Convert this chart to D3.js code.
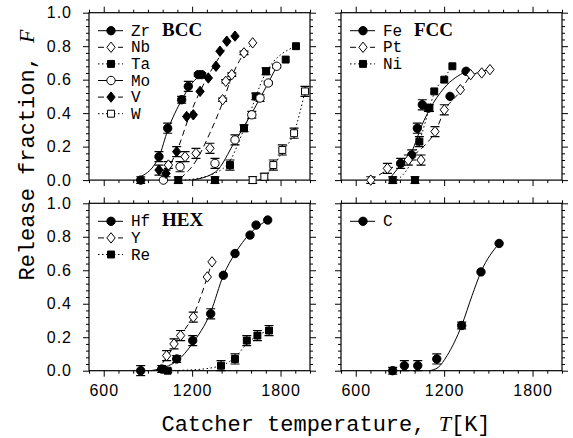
<!DOCTYPE html>
<html>
<head>
<meta charset="utf-8">
<script src="https://cdn.jsdelivr.net/npm/d3@7"></script>
<style>
  body { margin: 0; background: #fff; }
  svg { display: block; }
  .tick text { font-family: "Liberation Sans", Arial, sans-serif; font-size: 16px; fill: #000; letter-spacing: 1px; }
  .mono { font-family: "Liberation Mono", "DejaVu Sans Mono", monospace; fill: #000; }
</style>
</head>
<body>
<div id="chart"></div>
<script>
// ------------------
// DATA

// BCC panel
var zrT = [851, 975, 1034, 1129, 1174, 1242, 1265];
var zrF = [0, 0.14, 0.31, 0.48, 0.56, 0.63, 0.63];
var zrE = [0.02, 0.03, 0.03, 0.02, 0.03, 0.01, 0.01];
var zrFitT = [850, 975, 1035, 1130, 1200, 1265];
var zrFitF = [0.02, 0.14, 0.30, 0.48, 0.58, 0.63];

var nbT = [1039, 1152, 1226, 1321, 1407, 1428, 1469, 1552, 1611];
var nbF = [0.09, 0.14, 0.16, 0.19, 0.48, 0.59, 0.63, 0.76, 0.82];
var nbE = [0.02, 0.03, 0.03, 0.03, 0.01, 0.01, 0.01, 0.01, 0];
var nbFitT = [1120, 1230, 1320, 1410, 1470, 1611];
var nbFitF = [0.01, 0.12, 0.28, 0.47, 0.62, 0.82];

var taT = [1106, 1355, 1457, 1552, 1632, 1702, 1835, 1905];
var taF = [0, 0, 0.09, 0.31, 0.50, 0.65, 0.72, 0.80];
var taE = [0.02, 0.02, 0.03, 0.02, 0.02, 0.02, 0, 0];
var taFitT = [1150, 1350, 1460, 1550, 1700, 1905];
var taFitF = [0, 0.04, 0.12, 0.30, 0.64, 0.80];

var moT = [1005, 1118, 1355, 1491, 1605, 1661, 1717, 1774];
var moF = [0, 0.08, 0.10, 0.24, 0.39, 0.49, 0.58, 0.68];
var moE = [0, 0.03, 0.03, 0.03, 0.02, 0.02, 0.01, 0.01];
var moFitT = [1200, 1360, 1490, 1605, 1775];
var moFitF = [0, 0.05, 0.23, 0.40, 0.68];

var vT = [975, 1023, 1095, 1163, 1208, 1254, 1310, 1362, 1389, 1435, 1491];
var vF = [0.06, 0.04, 0.17, 0.38, 0.39, 0.53, 0.61, 0.68, 0.77, 0.83, 0.86];
var vE = [0.03, 0.02, 0.03, 0, 0, 0, 0, 0, 0, 0, 0];
var vFitT = [1020, 1095, 1180, 1254, 1360, 1490];
var vFitF = [0.05, 0.17, 0.38, 0.53, 0.70, 0.86];

var wT = [1611, 1690, 1751, 1812, 1892, 1966];
var wF = [0, 0.02, 0.09, 0.18, 0.28, 0.53];
var wE = [0.02, 0.02, 0.03, 0.03, 0.03, 0.03];
var wFitT = [1650, 1750, 1812, 1890, 1966];
var wFitF = [0, 0.08, 0.17, 0.28, 0.53];

// FCC panel
var feT = [905, 980, 1018, 1052, 1093, 1240, 1349];
var feF = [0.10, 0.15, 0.31, 0.45, 0.43, 0.50, 0.65];
var feE = [0.03, 0.03, 0.03, 0.03, 0.02, 0, 0];
var feFitT = [840, 905, 980, 1050, 1100, 1200, 1349];
var feFitF = [0.02, 0.09, 0.17, 0.33, 0.42, 0.55, 0.65];

var ptT = [702, 815, 957, 1043, 1138, 1201, 1310, 1380, 1455, 1511];
var ptF = [0, 0.07, 0.12, 0.12, 0.29, 0.42, 0.54, 0.63, 0.64, 0.66];
var ptE = [0.02, 0.03, 0.03, 0.03, 0.03, 0.03, 0, 0, 0, 0];
var ptFitT = [700, 815, 960, 1060, 1140, 1200, 1310, 1380, 1511];
var ptFitF = [0, 0.06, 0.13, 0.20, 0.29, 0.41, 0.53, 0.62, 0.66];

var niT = [851, 1002, 1032, 1100, 1133, 1201, 1256];
var niF = [0, 0, 0.23, 0.43, 0.53, 0.60, 0.68];
var niE = [0.02, 0.02, 0.03, 0.02, 0, 0, 0];
var niFitT = [880, 960, 1032, 1100, 1133, 1200, 1256];
var niFitF = [0, 0.08, 0.23, 0.43, 0.52, 0.61, 0.68];

// HEX panel
var hfT = [851, 994, 1095, 1204, 1326, 1412, 1491, 1593, 1634, 1713];
var hfF = [0, 0.01, 0.07, 0.18, 0.34, 0.57, 0.70, 0.81, 0.87, 0.90];
var hfE = [0.03, 0.02, 0.02, 0.03, 0.03, 0, 0, 0, 0, 0];
var hfFitT = [920, 1040, 1100, 1200, 1326, 1412, 1491, 1593, 1713];
var hfFitF = [0, 0.03, 0.06, 0.16, 0.35, 0.57, 0.70, 0.82, 0.90];

var yT = [1027, 1077, 1122, 1208, 1303, 1335];
var yF = [0.09, 0.16, 0.21, 0.32, 0.56, 0.65];
var yE = [0.03, 0.03, 0.03, 0.03, 0, 0];
var yFitT = [960, 1027, 1122, 1208, 1303, 1335];
var yFitF = [0, 0.08, 0.21, 0.33, 0.56, 0.65];

var reT = [1034, 1396, 1491, 1571, 1643, 1722];
var reF = [0, 0.03, 0.07, 0.18, 0.21, 0.24];
var reE = [0.01, 0.03, 0.03, 0.03, 0.03, 0.03];
var reFitT = [1000, 1200, 1396, 1491, 1571, 1643, 1722];
var reFitF = [0, 0.005, 0.03, 0.08, 0.16, 0.21, 0.24];

// C panel
var cT = [851, 930, 1021, 1150, 1319, 1450, 1573];
var cF = [0, 0.03, 0.03, 0.07, 0.27, 0.59, 0.76];
var cE = [0.02, 0.03, 0.03, 0.03, 0.02, 0, 0];
var cFitT = [1100, 1160, 1220, 1319, 1390, 1450, 1573];
var cFitF = [0, 0.02, 0.09, 0.27, 0.45, 0.59, 0.76];

var xMajor = [600, 1200, 1800];
var yMajor = [0, 0.2, 0.4, 0.6, 0.8, 1.0];

// ------------------
// LAYOUT

var W = 573, H = 438;
var cols = [89, 341], colW = 221;
var rows = [12.7, 203.3], rowH = 167.4;

var svg = d3.select("#chart").append("svg")
  .attr("width", W)
  .attr("height", H);

var dash = { solid: null, dashed: "6,4", dotted: "1.5,2.5" };

// marker shapes
var diamond = {
  draw: function(ctx, size) {
    var h = Math.sqrt(size) * 0.72, w = h * 0.8;
    ctx.moveTo(0, -h); ctx.lineTo(w, 0); ctx.lineTo(0, h); ctx.lineTo(-w, 0); ctx.closePath();
  }
};
var shapes = {
  circle:  { type: d3.symbolCircle, size: 55 },
  square:  { type: d3.symbolSquare, size: 48 },
  diamond: { type: diamond, size: 52 }
};

function zip(ts, fs, es) {
  return ts.map(function(t, i) { return { t: t, f: fs[i], e: es ? es[i] : 0 }; });
}

var panels = [
  { col: 0, row: 0, title: "BCC", series: [
    { name: "Zr", pts: zip(zrT, zrF, zrE), fit: zip(zrFitT, zrFitF), shape: "circle", filled: true, line: "solid" },
    { name: "Nb", pts: zip(nbT, nbF, nbE), fit: zip(nbFitT, nbFitF), shape: "diamond", filled: false, line: "dashed" },
    { name: "Ta", pts: zip(taT, taF, taE), fit: zip(taFitT, taFitF), shape: "square", filled: true, line: "dotted" },
    { name: "Mo", pts: zip(moT, moF, moE), fit: zip(moFitT, moFitF), shape: "circle", filled: false, line: "solid" },
    { name: "V",  pts: zip(vT, vF, vE),   fit: zip(vFitT, vFitF),   shape: "diamond", filled: true, line: "dashed" },
    { name: "W",  pts: zip(wT, wF, wE),   fit: zip(wFitT, wFitF),   shape: "square", filled: false, line: "dotted" }
  ]},
  { col: 1, row: 0, title: "FCC", series: [
    { name: "Fe", pts: zip(feT, feF, feE), fit: zip(feFitT, feFitF), shape: "circle", filled: true, line: "solid" },
    { name: "Pt", pts: zip(ptT, ptF, ptE), fit: zip(ptFitT, ptFitF), shape: "diamond", filled: false, line: "dashed" },
    { name: "Ni", pts: zip(niT, niF, niE), fit: zip(niFitT, niFitF), shape: "square", filled: true, line: "dotted" }
  ]},
  { col: 0, row: 1, title: "HEX", series: [
    { name: "Hf", pts: zip(hfT, hfF, hfE), fit: zip(hfFitT, hfFitF), shape: "circle", filled: true, line: "solid" },
    { name: "Y",  pts: zip(yT, yF, yE),   fit: zip(yFitT, yFitF),   shape: "diamond", filled: false, line: "dashed" },
    { name: "Re", pts: zip(reT, reF, reE), fit: zip(reFitT, reFitF), shape: "square", filled: true, line: "dotted" }
  ]},
  { col: 1, row: 1, title: "", series: [
    { name: "C", pts: zip(cT, cF, cE), fit: zip(cFitT, cFitF), shape: "circle", filled: true, line: "solid" }
  ]}
];

var minorX = d3.range(500, 2001, 100).filter(function(d) { return xMajor.indexOf(d) < 0; });
var minorY = d3.range(0, 1.001, 0.04).filter(function(d) { return Math.round(d * 100) % 20 != 0; });

panels.forEach(function(p) {
  var x = d3.scaleLinear().domain([500, 2000]).range([0, colW]);
  var y = d3.scaleLinear().domain([0, 1]).range([rowH, 0]);

  var g = svg.append("g")
    .attr("transform", "translate(" + cols[p.col] + "," + rows[p.row] + ")");

  // clip for curves and markers (markers may sit on the bottom spine)
  var cid = "clip" + p.col + p.row;
  g.append("clipPath").attr("id", cid)
    .append("rect").attr("x", 0).attr("y", -6).attr("width", colW).attr("height", rowH + 12);

  // ---------------
  // axes (ticks point outward)
  function addAxis(axis, tr, showLabels) {
    var a = g.append("g").attr("transform", tr).call(axis);
    a.select(".domain").remove();
    a.selectAll("line").attr("stroke", "#000");
    if (!showLabels) a.selectAll("text").remove();
    return a;
  }
  var showX = p.row == 1, showY = p.col == 0;
  addAxis(d3.axisBottom(x).tickValues(xMajor).tickSize(6).tickPadding(8).tickFormat(d3.format("d")), "translate(0," + rowH + ")", showX);
  addAxis(d3.axisBottom(x).tickValues(minorX).tickSize(3), "translate(0," + rowH + ")", false);
  addAxis(d3.axisTop(x).tickValues(xMajor).tickSize(6), "translate(0,0)", false);
  addAxis(d3.axisTop(x).tickValues(minorX).tickSize(3), "translate(0,0)", false);
  addAxis(d3.axisLeft(y).tickValues(yMajor).tickSize(6).tickPadding(11).tickFormat(d3.format(".1f")), "translate(0,0)", showY);
  addAxis(d3.axisLeft(y).tickValues(minorY).tickSize(3), "translate(0,0)", false);
  addAxis(d3.axisRight(y).tickValues(yMajor).tickSize(6), "translate(" + colW + ",0)", false);
  addAxis(d3.axisRight(y).tickValues(minorY).tickSize(3), "translate(" + colW + ",0)", false);

  g.append("rect")
    .attr("width", colW)
    .attr("height", rowH)
    .attr("fill", "none")
    .attr("stroke", "#000")
    .attr("stroke-width", 1.2);

  var plot = g.append("g").attr("clip-path", "url(#" + cid + ")");

  var line = d3.line()
    .x(function(d) { return x(d.t); })
    .y(function(d) { return y(d.f); })
    .curve(d3.curveMonotoneX);

  // fitted curves
  p.series.forEach(function(s) {
    plot.append("path")
      .datum(s.fit)
      .attr("d", line)
      .attr("fill", "none")
      .attr("stroke", "#000")
      .attr("stroke-width", 1)
      .attr("stroke-dasharray", dash[s.line]);
  });

  // error bars + markers
  p.series.forEach(function(s) {
    var sg = plot.append("g");
    var eb = sg.selectAll(".eb")
      .data(s.pts.filter(function(d) { return d.e > 0; }))
      .enter().append("g")
        .attr("stroke", "#000")
        .attr("stroke-width", 1.2);
    eb.append("line")
      .attr("x1", function(d) { return x(d.t); })
      .attr("x2", function(d) { return x(d.t); })
      .attr("y1", function(d) { return y(d.f - d.e); })
      .attr("y2", function(d) { return y(d.f + d.e); });
    [-1, 1].forEach(function(sgn) {
      eb.append("line")
        .attr("x1", function(d) { return x(d.t) - 4.5; })
        .attr("x2", function(d) { return x(d.t) + 4.5; })
        .attr("y1", function(d) { return y(d.f + sgn * d.e); })
        .attr("y2", function(d) { return y(d.f + sgn * d.e); });
    });

    var sym = d3.symbol().type(shapes[s.shape].type).size(shapes[s.shape].size);
    sg.selectAll(".pt")
      .data(s.pts)
      .enter().append("path")
        .attr("d", sym)
        .attr("transform", function(d) { return "translate(" + x(d.t) + "," + y(d.f) + ")"; })
        .attr("fill", s.filled ? "#000" : "#fff")
        .attr("stroke", "#000")
        .attr("stroke-width", 1);
  });

  // ---------------
  // legend
  var leg = g.append("g").selectAll("g")
    .data(p.series)
    .enter().append("g")
      .attr("transform", function(d, i) { return "translate(0," + (18 + i * 16.6) + ")"; });
  leg.append("line")
    .attr("x1", 9).attr("x2", 34)
    .attr("stroke", "#000")
    .attr("stroke-dasharray", function(d) { return dash[d.line]; });
  leg.append("path")
    .attr("d", function(d) { return d3.symbol().type(shapes[d.shape].type).size(shapes[d.shape].size)(); })
    .attr("transform", "translate(22,0)")
    .attr("fill", function(d) { return d.filled ? "#000" : "#fff"; })
    .attr("stroke", "#000");
  leg.append("text")
    .attr("class", "mono")
    .attr("x", 42)
    .attr("y", 5)
    .style("font-size", "16px")
    .text(function(d) { return d.name; });

  if (p.title) {
    g.append("text")
      .attr("x", 73)
      .attr("y", 23)
      .style("font-family", "'Liberation Serif', 'Times New Roman', serif")
      .style("font-weight", "bold")
      .style("font-size", "19px")
      .text(p.title);
  }
});

// ---------------
// axis titles
var xt = svg.append("text")
  .attr("class", "mono")
  .attr("x", 326)
  .attr("y", 431)
  .attr("text-anchor", "middle")
  .style("font-size", "22px");
xt.append("tspan").text("Catcher temperature, ");
xt.append("tspan").style("font-family", "'Liberation Serif', serif").style("font-style", "italic").text("T");
xt.append("tspan").text("[K]");

var yt = svg.append("text")
  .attr("class", "mono")
  .attr("transform", "translate(34,155) rotate(-90)")
  .attr("text-anchor", "middle")
  .style("font-size", "22px");
yt.append("tspan").text("Release fraction, ");
yt.append("tspan").style("font-family", "'Liberation Serif', serif").style("font-style", "italic").text("F");
</script>
</body>
</html>
